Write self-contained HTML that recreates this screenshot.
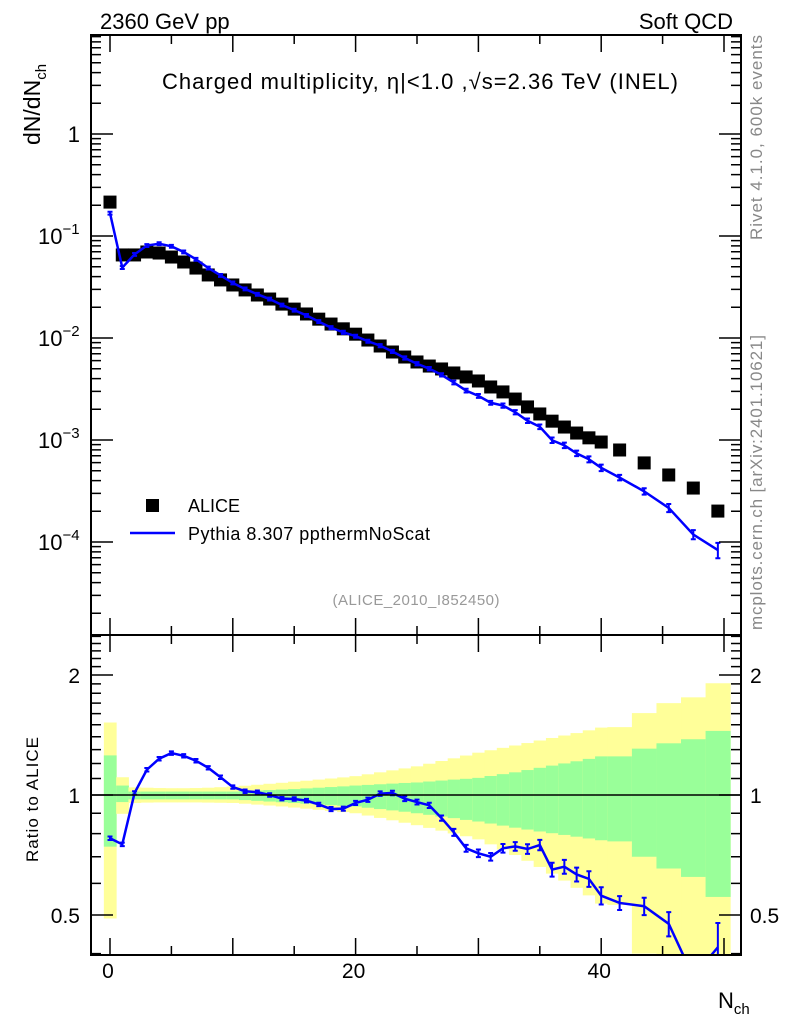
<!DOCTYPE html>
<html><head><meta charset="utf-8"><style>
body{margin:0;background:#fff;}
svg{display:block;font-family:"Liberation Sans",Arial,sans-serif;}
</style></head><body>
<svg id="c" width="786" height="1024" viewBox="0 0 786 1024" xmlns="http://www.w3.org/2000/svg">
<g id="bands"></g>
<g id="marks"></g>
<g id="axes"></g>
<text x="100" y="29" font-size="22">2360 GeV pp</text>
<text x="733" y="29" font-size="22" text-anchor="end">Soft QCD</text>
<text x="420" y="89" font-size="22" text-anchor="middle" textLength="516">Charged multiplicity, η|&lt;1.0 ,√s=2.36 TeV (INEL)</text>
<text transform="translate(40,145) rotate(-90)" font-size="23">dN/dN<tspan font-size="15" dy="6">ch</tspan></text>
<text transform="translate(762,240) rotate(-90)" font-size="17" fill="#888" textLength="205">Rivet 4.1.0,  600k events</text>
<text transform="translate(762,630) rotate(-90)" font-size="17" fill="#888" textLength="295">mcplots.cern.ch [arXiv:2401.10621]</text>
<text x="416" y="605" font-size="15" fill="#999" text-anchor="middle" textLength="167">(ALICE_2010_I852450)</text>
<rect x="146" y="499" width="13" height="13" fill="#000"/>
<text x="188" y="512" font-size="18">ALICE</text>
<line x1="130" y1="533" x2="175" y2="533" stroke="#00f" stroke-width="2.5"/>
<text x="188" y="540" font-size="18" textLength="242">Pythia 8.307 ppthermNoScat</text>
<text transform="translate(38,862) rotate(-90)" font-size="17" textLength="125">Ratio to ALICE</text>
<text x="718" y="1008" font-size="22">N<tspan font-size="15" dy="6">ch</tspan></text>
</svg>
<script>
const nch = [0,1,2,3,4,5,6,7,8,9,10,11,12,13,14,15,16,17,18,19,20,21,22,23,24,25,26,27,28,29,30,31,32,33,34,35,36,37,38,39,40,41.5,43.5,45.5,47.5,49.5];
const binHalf = [0.5,0.5,0.5,0.5,0.5,0.5,0.5,0.5,0.5,0.5,0.5,0.5,0.5,0.5,0.5,0.5,0.5,0.5,0.5,0.5,0.5,0.5,0.5,0.5,0.5,0.5,0.5,0.5,0.5,0.5,0.5,0.5,0.5,0.5,0.5,0.5,0.5,0.5,0.5,0.5,0.5,1,1,1,1,1];
const alice = [0.215,0.0652,0.0652,0.0697,0.0681,0.0622,0.0556,0.0485,0.0415,0.0371,0.0331,0.0296,0.0264,0.0241,0.0215,0.0192,0.0172,0.0153,0.0137,0.0123,0.0109,0.00955,0.00835,0.00729,0.00651,0.00582,0.00531,0.00497,0.00454,0.00415,0.00379,0.00331,0.00296,0.00252,0.00211,0.00180,0.00153,0.00134,0.00117,0.00105,0.000955,0.000798,0.000596,0.000454,0.000338,0.000201];
const ratio = [0.779,0.752,1.012,1.157,1.233,1.274,1.254,1.219,1.170,1.108,1.047,1.022,1.016,1.000,0.979,0.977,0.968,0.947,0.922,0.924,0.955,0.973,1.008,1.012,0.979,0.960,0.942,0.875,0.806,0.735,0.714,0.700,0.735,0.743,0.732,0.749,0.650,0.661,0.632,0.616,0.559,0.536,0.526,0.475,0.35,0.415];
const ratioErr = [0.01,0.01,0.01,0.01,0.01,0.01,0.01,0.01,0.01,0.01,0.01,0.01,0.01,0.01,0.01,0.01,0.01,0.01,0.012,0.012,0.012,0.012,0.013,0.013,0.014,0.014,0.015,0.015,0.02,0.02,0.022,0.022,0.025,0.025,0.028,0.03,0.04,0.04,0.04,0.045,0.05,0.04,0.05,0.07,0.08,0.15];
const yellowHi = [1.52,1.108,1.045,1.043,1.041,1.04,1.04,1.041,1.043,1.046,1.05,1.055,1.061,1.067,1.073,1.08,1.086,1.093,1.1,1.107,1.115,1.127,1.14,1.153,1.166,1.18,1.198,1.217,1.236,1.256,1.277,1.295,1.313,1.331,1.35,1.37,1.39,1.41,1.43,1.453,1.476,1.48,1.605,1.70,1.758,1.907];
const yellowLo = [0.49,0.897,0.955,0.957,0.958,0.958,0.958,0.958,0.957,0.956,0.955,0.951,0.946,0.941,0.936,0.93,0.924,0.918,0.912,0.906,0.90,0.888,0.876,0.864,0.852,0.84,0.827,0.814,0.801,0.788,0.774,0.752,0.73,0.707,0.684,0.66,0.635,0.61,0.585,0.56,0.534,0.53,0.40,0.35,0.33,0.30];
const greenHi = [1.257,1.056,1.02,1.02,1.02,1.02,1.02,1.02,1.02,1.02,1.02,1.023,1.026,1.029,1.032,1.035,1.039,1.043,1.047,1.051,1.056,1.06,1.064,1.068,1.072,1.075,1.081,1.087,1.093,1.098,1.104,1.116,1.128,1.14,1.155,1.17,1.185,1.2,1.215,1.232,1.25,1.25,1.307,1.348,1.38,1.448];
const greenLo = [0.742,0.96,0.975,0.975,0.975,0.975,0.975,0.975,0.975,0.975,0.975,0.971,0.967,0.963,0.959,0.955,0.951,0.947,0.943,0.94,0.936,0.929,0.922,0.915,0.908,0.90,0.892,0.883,0.875,0.866,0.858,0.848,0.838,0.828,0.819,0.81,0.802,0.794,0.786,0.778,0.77,0.765,0.70,0.654,0.623,0.555];
const xTicks = [0,20,40];
const mainTicks = [1,0.1,0.01,0.001,0.0001];
const mainTickLabels = ["1","10","10","10","10"];
const mainTickExp = ["","−1","−2","−3","−4"];
const ratioTicks = [2,1,0.5];
const ratioTickLabels = ["2","1","0.5"];

const L=91,R=741,T=35,M=635,B=955;
const X0=110,XS=12.28;
const sx=v=>X0+v*XS;
const sy=v=>134-Math.log10(v)*102;
const sr=v=>795-Math.log10(v)*398.6;
const NS="http://www.w3.org/2000/svg";
function mk(tag,attrs,parent){const e=document.createElementNS(NS,tag);for(const k in attrs)e.setAttribute(k,attrs[k]);parent.appendChild(e);return e;}
const bands=document.getElementById('bands'),marks=document.getElementById('marks'),axes=document.getElementById('axes');
const clipR=mk('clipPath',{id:'cr'},document.getElementById('c'));
mk('rect',{x:L,y:M,width:R-L,height:B-M},clipR);
bands.setAttribute('clip-path','url(#cr)');

nch.forEach((n,i)=>{
  const x1=sx(n-binHalf[i]),x2=sx(n+binHalf[i]);
  const y=mk('rect',{x:x1,y:sr(yellowHi[i]),width:x2-x1+0.5,height:sr(yellowLo[i])-sr(yellowHi[i]),fill:'#ffff99'},bands);
  
  
  const g=mk('rect',{x:x1,y:sr(greenHi[i]),width:x2-x1+0.5,height:sr(greenLo[i])-sr(greenHi[i]),fill:'#99ff99'},bands);
  
  
});
const one=mk('line',{x1:L,x2:R,y1:sr(1),y2:sr(1),stroke:'#000','stroke-width':1.5},axes);



nch.forEach((n,i)=>{
  const s=mk('rect',{x:sx(n)-6.5,y:sy(alice[i])-6.5,width:13,height:13,fill:'#000'},marks);
  
  
});
let pts=nch.map((n,i)=>sx(n)+','+sy(alice[i]*ratio[i])).join(' ');
const pl=mk('polyline',{points:pts,fill:'none',stroke:'#00f','stroke-width':2.5},marks);


nch.forEach((n,i)=>{
  const v=alice[i]*ratio[i],e=ratioErr[i],x=sx(n),a=sy(v*(1+e)),b=sy(v*(1-e));
  const t=mk('path',{d:`M${x},${a-1}V${b+1}M${x-2.5},${a-1}h5M${x-2.5},${b+1}h5`,stroke:'#00f','stroke-width':2,fill:'none'},marks);
  
  
});
const rg=mk('g',{'clip-path':'url(#cr)'},marks);


pts=nch.map((n,i)=>sx(n)+','+sr(ratio[i])).join(' ');
const rl=mk('polyline',{points:pts,fill:'none',stroke:'#00f','stroke-width':2.5},rg);


nch.forEach((n,i)=>{
  const a=sr(ratio[i]*(1+ratioErr[i])),b=sr(ratio[i]*(1-ratioErr[i])),x=sx(n);
  const p=mk('path',{d:`M${x},${a}V${b}M${x-2.5},${a}h5M${x-2.5},${b}h5`,stroke:'#00f','stroke-width':2,fill:'none'},rg);
  
  
});

[[T,M],[M,B]].forEach(([a,b])=>{
  const f=mk('rect',{x:L,y:a,width:R-L,height:b-a,fill:'none',stroke:'#000','stroke-width':2},axes);
  
  
});
let d='';
for(let v=0;v<=50;v+=5){
  const x=sx(v);const maj=v%10===0;
  const len=maj?17:9;
  d+=`M${x},${T}v${len}M${x},${M}v${-len}M${x},${M}v${len}M${x},${B}v${-len}`;
}
for(let e=-5;e<=0;e++){
  for(let m=1;m<10;m++){
    const v=m*Math.pow(10,e);const y=sy(v);
    if(y<T||y>M) continue;
    const len=m===1?22:10;
    d+=`M${L},${y}h${len}M${R},${y}h${-len}`;
  }
}
[0.4,0.5,0.6,0.7,0.8,0.9,1,1.1,1.2,1.3,1.4,1.5,1.6,1.7,1.8,1.9,2,2.1,2.2,2.3,2.4,2.5].forEach(v=>{
  const y=sr(v);if(y<M||y>B)return;
  const len=(v===0.5||v===1||v===2)?22:10;
  d+=`M${L},${y}h${len}M${R},${y}h${-len}`;
});
const tk=mk('path',{d:d,stroke:'#000','stroke-width':1.5,fill:'none'},axes);



xTicks.forEach(v=>{
  const t=mk('text',{x:sx(v)-2,y:978,'font-size':21,'text-anchor':'middle'},axes);
  t.textContent=v;
  
  
});
mainTicks.forEach((v,i)=>{
  const t=mk('text',{x:80,y:sy(v)+8,'font-size':22},axes);
  t.textContent=mainTickLabels[i];
  if(i===0){t.setAttribute('text-anchor','end');}
  else{t.setAttribute('x',38);
    const s=mk('tspan',{'font-size':15,dy:-10},t);s.textContent=mainTickExp[i];}
  
  
});
ratioTicks.forEach((v,i)=>{
  const t=mk('text',{x:80,y:sr(v)+8,'font-size':21,'text-anchor':'end'},axes);
  t.textContent=ratioTickLabels[i];
  
  
  const t2=mk('text',{x:750,y:sr(v)+8,'font-size':21},axes);
  t2.textContent=ratioTickLabels[i];
  
  
});
</script>
</body></html>
